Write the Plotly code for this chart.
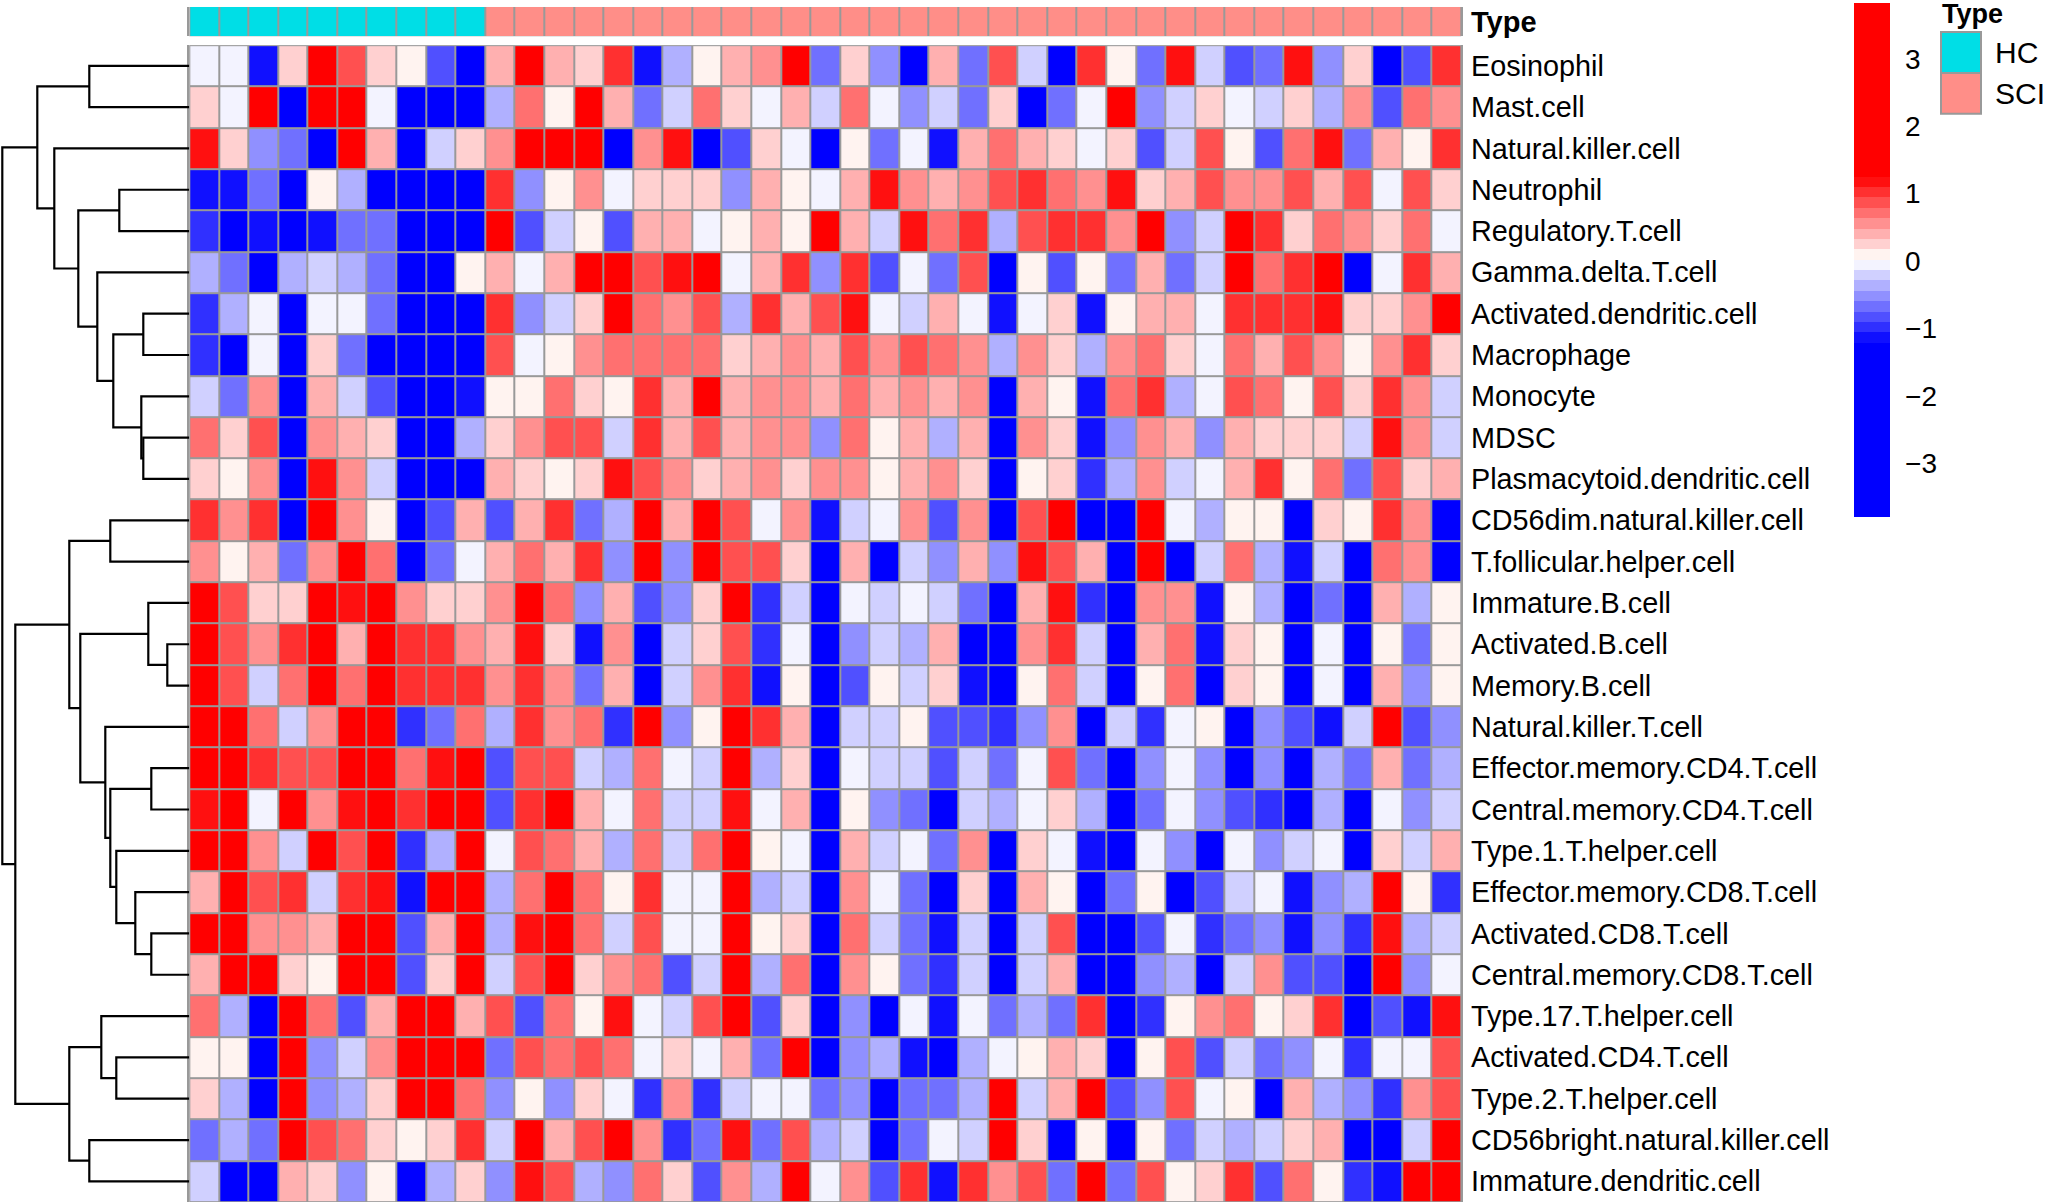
import numpy as np
import plotly.graph_objects as go

W = 2047
H = 1204

# rows of the heatmap, top to bottom
cell_types = [
    "Eosinophil", "Mast.cell", "Natural.killer.cell", "Neutrophil", "Regulatory.T.cell",
    "Gamma.delta.T.cell", "Activated.dendritic.cell", "Macrophage", "Monocyte", "MDSC",
    "Plasmacytoid.dendritic.cell", "CD56dim.natural.killer.cell", "T.follicular.helper.cell",
    "Immature.B.cell", "Activated.B.cell", "Memory.B.cell", "Natural.killer.T.cell",
    "Effector.memory.CD4.T.cell", "Central.memory.CD4.T.cell", "Type.1.T.helper.cell",
    "Effector.memory.CD8.T.cell", "Activated.CD8.T.cell", "Central.memory.CD8.T.cell",
    "Type.17.T.helper.cell", "Activated.CD4.T.cell", "Type.2.T.helper.cell",
    "CD56bright.natural.killer.cell", "Immature.dendritic.cell",
]

# sample type per column: 0 HC, 1 SCI
n_hc = 10
n_sci = 33
sample_type = [0] * n_hc + [1] * n_sci

eosinophil = [-1, -1, -8, 2, 9, 6, 2, 1, -6, -9, 3, 9, 3, 2, 7, -8, -3, 1, 3, 4, 9, -5, 2, -4, -9, 3, -5, 6, -2, -9, 7, 1, -5, 8, -2, -6, -5, 8, -4, 2, -9, -6, 7]
mast = [2, -1, 9, -9, 9, 9, -1, -9, -9, -9, -3, 5, 1, 9, 3, -5, -2, 5, 2, -1, 3, -2, 5, -1, -4, -2, -5, 2, -9, -5, -1, 9, -4, -2, 2, -1, -2, 2, -3, 4, -6, 5, 4]
nk = [8, 2, -4, -5, -9, 9, 3, -9, -2, 2, 4, 9, 9, 9, -9, 4, 8, -9, -6, 2, -1, -9, 1, -5, -1, -8, 3, 5, 3, 2, -1, 2, -6, -2, 6, 1, -6, 5, 8, -5, 3, 1, 7]
neutrophil = [-8, -8, -5, -9, 1, -3, -9, -9, -9, -9, 7, -4, 1, 4, -1, 2, 2, 2, -4, 3, 1, -1, 3, 8, 4, 3, 4, 6, 7, 5, 4, 8, 2, 3, 6, 4, 4, 6, 3, 6, -1, 6, 2]
treg = [-7, -9, -8, -9, -8, -5, -5, -9, -9, -9, 9, -6, -2, 1, -6, 3, 3, -1, 1, 3, 1, 9, 3, -2, 8, 5, 7, -3, 6, 7, 7, 4, 9, -4, -2, 9, 7, 2, 5, 4, 2, 5, -1]
gamma_delta = [-3, -5, -9, -3, -2, -3, -5, -9, -9, 1, 3, -1, 3, 9, 9, 6, 8, 9, -1, 3, 7, -4, 7, -6, -1, -5, 6, -9, 1, -6, 1, -5, 3, -5, -2, 9, 5, 7, 9, -9, -1, 7, 3]
act_dc = [-7, -3, -1, -9, -1, -1, -5, -9, -9, -9, 7, -4, -2, 2, 9, 5, 4, 6, -3, 7, 3, 6, 8, -1, -2, 3, -1, -8, -1, 2, -8, 1, 3, 3, -1, 7, 7, 7, 8, 2, 2, 4, 9]
macrophage = [-7, -9, -1, -9, 2, -5, -9, -9, -9, -9, 6, -1, 1, 4, 5, 5, 5, 5, 2, 3, 4, 3, 6, 4, 6, 5, 4, -3, 4, 2, -3, 4, 5, 2, -1, 5, 3, 6, 4, 1, 4, 7, 2]
monocyte = [-2, -5, 4, -9, 3, -2, -6, -9, -9, -8, 1, 1, 5, 2, 1, 7, 3, 9, 3, 4, 4, 3, 5, 3, 4, 3, 4, -9, 3, 1, -8, 5, 7, -3, -1, 6, 5, 1, 6, 2, 7, 4, -2]
mdsc = [5, 2, 6, -9, 4, 3, 2, -9, -9, -3, 2, 4, 6, 6, -2, 7, 3, 6, 3, 4, 4, -4, 5, 1, 3, -3, 3, -9, 4, 2, -8, -4, 4, 3, -4, 3, 2, 2, 2, -2, 8, 4, -2]
pdc = [2, 1, 4, -9, 8, 4, -2, -9, -9, -9, 3, 2, 1, 2, 8, 6, 4, 2, 3, 4, 2, 4, 4, 1, 3, 4, 2, -9, 1, 2, -7, -3, 4, -2, -1, 3, 7, 1, 5, -5, 6, 2, 3]
cd56dim = [7, 4, 7, -9, 9, 4, 1, -9, -6, 3, -6, 3, 7, -5, -3, 9, 3, 9, 6, -1, 4, -8, -2, -1, 4, -6, 4, -9, 6, 9, -9, -9, 9, -1, -3, 1, 1, -9, 2, 1, 7, 4, -9]
tfh = [4, 1, 3, -5, 4, 9, 5, -9, -5, -1, 3, 5, 3, 7, -4, 9, -4, 9, 6, 6, 2, -9, 3, -9, -2, -4, 3, -4, 8, 6, 3, -9, 9, -9, -2, 5, -3, -8, -2, -9, 5, 4, -9]
imm_b = [9, 6, 2, 2, 9, 8, 9, 4, 2, 2, 4, 9, 5, -4, 3, -6, -4, 2, 9, -7, -2, -9, -1, -2, -1, -2, -5, -9, 3, 8, -7, -9, 4, 4, -8, 1, -3, -9, -5, -9, 3, -3, 1]
act_b = [9, 6, 4, 7, 9, 3, 9, 7, 7, 4, 3, 8, 2, -8, 4, -9, -2, 2, 6, -7, -1, -9, -4, -2, -3, 3, -9, -9, 4, 7, -2, -9, 3, 5, -8, 2, 1, -9, -1, -9, 1, -5, 1]
mem_b = [9, 6, -2, 5, 9, 5, 9, 7, 7, 7, 4, 7, 4, -5, 3, -9, -2, 4, 7, -8, 1, -9, -6, 1, -2, 2, -8, -9, 1, 5, -2, -9, 1, 5, -9, 2, 1, -9, -1, -9, 3, -4, 1]
nkt = [9, 9, 5, -2, 4, 9, 9, -7, -5, 5, -3, 7, 4, 5, -7, 9, -4, 1, 9, 7, 3, -9, -2, -2, 1, -6, -6, -7, -4, 4, -9, -2, -7, -1, 1, -9, -4, -6, -8, -2, 9, -6, -4]
em_cd4 = [9, 9, 7, 6, 6, 9, 9, 5, 8, 9, -6, 6, 6, -2, -3, 5, -1, -2, 9, -3, 2, -9, -1, -2, -2, -6, -2, -5, -1, 6, -5, -9, -4, -1, -4, -9, -4, -9, -3, -5, 3, -5, -3]
cm_cd4 = [8, 9, -1, 9, 4, 8, 9, 7, 9, 9, -6, 7, 9, 3, -1, 5, -2, -2, 8, -1, 3, -9, 1, -4, -5, -9, -2, -3, -1, 2, -3, -9, -5, -1, -4, -6, -7, -9, -3, -9, -1, -4, -2]
th1 = [9, 9, 4, -2, 9, 6, 9, -7, -3, 9, -1, 6, 5, 3, -3, 5, -2, 5, 9, 1, -1, -9, 3, -2, -1, -5, 4, -9, 2, -1, -8, -9, -1, -4, -9, -1, -4, -2, -1, -9, 2, -2, 3]
em_cd8 = [3, 9, 6, 7, -2, 7, 8, -8, 9, 9, -3, 5, 9, 5, 1, 7, -1, -1, 9, -3, -2, -9, 4, -1, -5, -9, 2, -9, 3, 1, -9, -5, 1, -9, -6, -2, -1, -8, -4, -3, 9, 1, -7]
act_cd8 = [9, 9, 4, 4, 3, 9, 9, -6, 3, 9, -3, 8, 9, 5, -2, 6, -1, -1, 9, 1, 2, -9, 5, -2, -5, -8, -2, -9, -2, 6, -9, -9, -6, -1, -7, -5, -4, -8, -4, -7, 8, -3, -2]
cm_cd8 = [3, 9, 9, 2, 1, 9, 9, -6, 2, 9, -2, 6, 9, 2, 4, 5, -6, -2, 9, -3, 5, -9, 4, 1, -5, -7, -2, -9, -2, 3, -9, -9, -4, -3, -9, -2, 4, -6, -6, -9, 9, -4, -1]
th17 = [5, -3, -9, 9, 5, -6, 3, 9, 9, 3, 6, -6, 5, 1, 8, -1, -2, 6, 9, -6, 2, -9, -4, -9, -1, -8, -1, -5, -3, -5, 7, -9, -7, 1, 4, 5, 1, 2, 7, -9, -6, -8, 8]
act_cd4 = [1, 1, -9, 9, -4, -2, 4, 9, 9, 9, -5, 6, 5, 6, 5, -1, 2, -1, 3, -5, 9, -9, -4, -3, -8, -9, -3, -1, 1, 3, 2, -9, 1, 6, -6, -2, -5, -4, -1, -7, -1, -1, 6]
th2 = [2, -3, -9, 9, -4, -3, 2, 9, 9, 5, -4, 1, -4, 2, -1, -7, 4, -7, -2, -1, -1, -5, -4, -9, -5, -5, -3, 9, -2, 3, 9, -6, -4, 6, -1, 1, -9, 3, -3, -4, -7, 4, 6]
cd56bright = [-5, -3, -5, 9, 6, 5, 2, 1, 2, 7, -2, 9, 3, 6, 9, 4, -7, -5, 8, -5, 6, -3, -2, -9, -5, -1, -2, 9, 2, -9, 1, -9, 1, -5, -2, -3, -2, 2, 3, -9, -9, -2, 9]
imm_dc = [-2, -9, -9, 3, 2, -4, 1, -9, -3, 2, -4, 8, 6, -3, -4, 5, 2, -6, 4, -3, 9, -1, 4, -6, 7, -8, 7, 4, 6, -5, 9, -5, 6, 1, 2, 7, -6, 5, 1, -7, -8, 9, 9]

steps = np.array([
    eosinophil, mast, nk, neutrophil, treg, gamma_delta, act_dc, macrophage, monocyte, mdsc,
    pdc, cd56dim, tfh, imm_b, act_b, mem_b, nkt, em_cd4, cm_cd4, th1, em_cd8, act_cd8, cm_cd8,
    th17, act_cd4, th2, cd56bright, imm_dc,
])

# colour bar
step_size = 0.154
mid_value = 0.02
z_min = -3.8
z_max = 3.83
bar_ticks = [-3, -2, -1, 0, 1, 2, 3]
band_colors = [
    "#0000FF", "#1010FF", "#3030FF", "#5050FF", "#7070FF", "#9090FF", "#B0B0FF", "#D0D0FF", "#F3F3FF",
    "#FFF3F0", "#FFD0D0", "#FFB0B0", "#FF9090", "#FF7070", "#FF5050", "#FF3030", "#FF1010", "#FF0000",
]

# dendrogram merges: ids below 28 are rows, 28 and up are earlier merges
merge_a = [0, 3, 6, 9, 8, 30, 5, 29, 2, 28, 11, 14, 13, 17, 21, 20, 19, 41, 16, 40, 38, 24, 23, 26, 50, 48, 37]
merge_b = [1, 4, 7, 10, 31, 32, 33, 34, 35, 36, 12, 15, 39, 18, 22, 42, 43, 44, 45, 46, 47, 25, 49, 27, 51, 52, 53]
merge_h = [100, 70, 46, 46, 48, 76, 92, 111, 135, 152, 79, 22, 41, 38, 38, 54, 73, 79, 84, 109, 120, 73, 88, 100, 120, 174, 187]

GREY = "#999999"
HC_COL = "#00DEE6"
SCI_COL = "#FF8E88"
FONT = "Liberation Sans"


def px_x(v):
    return v / W


def px_y(v):
    return 1 - v / H


def to_z(s):
    return mid_value + np.sign(s) * (np.abs(s) - 0.5) * step_size


# stepped colorscale, bands sit around mid_value
edges = [z_min] + [mid_value + k * step_size for k in range(-8, 9)] + [z_max]
colorscale = []
for i, c in enumerate(band_colors):
    colorscale.append([(edges[i] - z_min) / (z_max - z_min), c])
    colorscale.append([(edges[i + 1] - z_min) / (z_max - z_min), c])

n_rows = len(cell_types)
n_cols = len(sample_type)
rows = list(range(n_rows))
cols = list(range(n_cols))

fig = go.Figure()

fig.add_trace(go.Heatmap(
    z=to_z(steps), x=cols, y=rows, zmin=z_min, zmax=z_max, colorscale=colorscale,
    xgap=2, ygap=2, hoverinfo="skip",
    colorbar=dict(
        x=px_x(1854), xanchor="left", y=px_y(2), yanchor="top", xpad=0, ypad=0,
        thicknessmode="pixels", thickness=36, lenmode="pixels", len=514,
        outlinewidth=0, tickvals=bar_ticks, ticks="outside", ticklen=10, tickcolor="rgba(0,0,0,0)",
        tickfont=dict(family=FONT, size=28, color="black"),
    ),
))

fig.add_trace(go.Heatmap(
    z=[sample_type], x=cols, y=[0], zmin=0, zmax=1, xaxis="x", yaxis="y2",
    colorscale=[[0, HC_COL], [0.5, HC_COL], [0.5, SCI_COL], [1, SCI_COL]],
    showscale=False, xgap=2, ygap=0, hoverinfo="skip",
))

# walk the merges to get the tree lines
pos = {r: (0, r) for r in rows}
den_x = []
den_y = []
for i in range(len(merge_h)):
    ha, ya = pos[merge_a[i]]
    hb, yb = pos[merge_b[i]]
    h = merge_h[i]
    den_x += [ha, h, h, hb, None]
    den_y += [ya, ya, yb, yb, None]
    pos[n_rows + i] = (h, (ya + yb) / 2)

fig.add_trace(go.Scatter(
    x=den_x, y=den_y, xaxis="x2", yaxis="y", mode="lines",
    line=dict(color="black", width=2.2), hoverinfo="skip", showlegend=False,
))

heat_dom_x = [px_x(189.3), px_x(1461.2)]
fig.update_layout(
    width=W, height=H, autosize=False, margin=dict(l=0, r=0, t=0, b=0),
    paper_bgcolor="white", plot_bgcolor=GREY, showlegend=False,
    font=dict(family=FONT, color="black"),
    xaxis=dict(domain=heat_dom_x, range=[-0.5, n_cols - 0.5], showgrid=False, zeroline=False,
               showticklabels=False, ticks=""),
    yaxis=dict(domain=[px_y(1203), px_y(44.2)], range=[n_rows - 0.5, -0.5], side="right",
               anchor="x", tickvals=rows, ticktext=cell_types, showgrid=False, zeroline=False,
               ticks="outside", ticklen=2, tickcolor="rgba(0,0,0,0)",
               tickfont=dict(family=FONT, size=28.8, color="black"),
               showline=True, linecolor=GREY, linewidth=2, mirror=True),
    xaxis2=dict(domain=[0, px_x(189.3)], range=[189.3, 0], anchor="y", showgrid=False, zeroline=False,
                showticklabels=False, ticks=""),
    yaxis2=dict(domain=[px_y(35.3), px_y(6)], range=[-0.5, 0.5], side="right", anchor="x",
                tickvals=[0], ticktext=["<b>Type</b>"], showgrid=False, zeroline=False,
                ticks="outside", ticklen=2, tickcolor="rgba(0,0,0,0)",
                tickfont=dict(family=FONT, size=29, color="black"),
                showline=True, linecolor=GREY, linewidth=2, mirror=True),
)
# the dendrogram panel must stay white behind the lines
fig.add_shape(type="rect", xref="paper", yref="paper", layer="below",
              x0=0, x1=px_x(189), y0=0, y1=1, fillcolor="white", line_width=0)
fig.add_shape(type="rect", xref="paper", yref="paper", layer="below",
              x0=px_x(189), x1=px_x(1462), y0=px_y(44), y1=px_y(36), fillcolor="white", line_width=0)

# legend patches for Type
for col, top, bottom in [(HC_COL, 31, 72), (SCI_COL, 72, 113)]:
    fig.add_shape(type="rect", xref="paper", yref="paper",
                  x0=px_x(1941), x1=px_x(1981), y0=px_y(bottom), y1=px_y(top),
                  fillcolor=col, line=dict(color=GREY, width=2))
fig.add_annotation(xref="paper", yref="paper", x=px_x(1942), y=px_y(13), text="<b>Type</b>",
                   showarrow=False, xanchor="left", yanchor="middle", xshift=-2,
                   font=dict(family=FONT, size=27, color="black"))
for name, y in [("HC", 51.5), ("SCI", 92.5)]:
    fig.add_annotation(xref="paper", yref="paper", x=px_x(1993), y=px_y(y), text=name,
                       showarrow=False, xanchor="left", yanchor="middle",
                       font=dict(family=FONT, size=30, color="black"))

fig.write_html("out.html", config={"displayModeBar": False}, post_script="document.body.style.margin='0';")
